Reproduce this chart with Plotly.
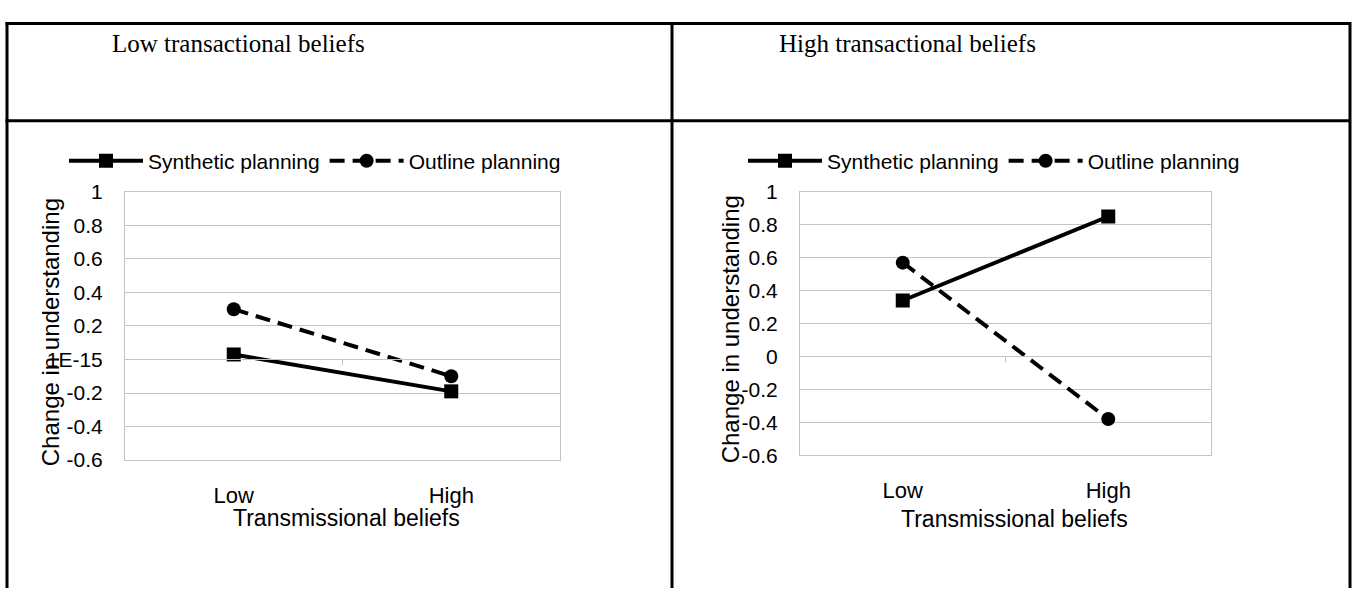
import plotly.graph_objects as go

categories = ["Low", "High"]
left_synthetic = [0.03, -0.19]
left_outline = [0.30, -0.10]
right_synthetic = [0.34, 0.85]
right_outline = [0.57, -0.38]
y_ticks = [-0.6, -0.4, -0.2, 0, 0.2, 0.4, 0.6, 0.8, 1]
left_tick_text = ["-0.6", "-0.4", "-0.2", "1E-15", "0.2", "0.4", "0.6", "0.8", "1"]
right_tick_text = ["-0.6", "-0.4", "-0.2", "0", "0.2", "0.4", "0.6", "0.8", "1"]
panel_titles = ["Low transactional beliefs", "High transactional beliefs"]
series_names = ["Synthetic planning", "Outline planning"]

FW, FH = 1355, 599
SANS = "Liberation Sans, Arial, sans-serif"
SERIF = "Liberation Serif, Times New Roman, serif"
GRID = "#c4c4c4"


def fx(p):
    return p / FW


def fy(p):
    return 1 - p / FH


fig = go.Figure()

panels = [
    dict(xa="x", ya="y", leg="legend", syn=left_synthetic, out=left_outline),
    dict(xa="x2", ya="y2", leg="legend2", syn=right_synthetic, out=right_outline),
]
for p in panels:
    fig.add_trace(go.Scatter(
        x=categories, y=p["syn"], name=series_names[0], mode="lines+markers",
        line=dict(color="black", width=4),
        marker=dict(symbol="square", size=14, color="black"),
        xaxis=p["xa"], yaxis=p["ya"], legend=p["leg"]))
    fig.add_trace(go.Scatter(
        x=categories, y=p["out"], name=series_names[1], mode="lines+markers",
        line=dict(color="black", width=4, dash="15px,8px"),
        marker=dict(symbol="circle", size=14, color="black"),
        xaxis=p["xa"], yaxis=p["ya"], legend=p["leg"]))

axis_common = dict(showline=True, mirror=True, linecolor=GRID, linewidth=1,
                   zeroline=False, fixedrange=True)
xcommon = dict(type="category", range=[-0.5, 1.5], showgrid=False, ticks="",
               ticklabelstandoff=15, tickfont=dict(size=22), **axis_common)
ycommon = dict(range=[-0.6, 1], tickvals=y_ticks, showgrid=True, gridcolor=GRID,
               ticks="", ticklabelstandoff=17, tickfont=dict(size=21), **axis_common)
legcommon = dict(orientation="h", xanchor="left", yanchor="middle",
                 font=dict(size=21, family=SANS), bgcolor="rgba(0,0,0,0)",
                 itemwidth=74, tracegroupgap=0)

fig.update_layout(
    width=FW, height=FH,
    margin=dict(l=0, r=0, t=0, b=0),
    paper_bgcolor="white", plot_bgcolor="white",
    font=dict(family=SANS, color="black", size=21),
    xaxis=dict(domain=[fx(125), fx(560)], anchor="y", **xcommon),
    yaxis=dict(domain=[fy(466), fy(187)], anchor="x", ticktext=left_tick_text, **ycommon),
    xaxis2=dict(domain=[fx(800), fx(1211)], anchor="y2", **xcommon),
    yaxis2=dict(domain=[fy(461), fy(187)], anchor="x2", ticktext=right_tick_text, **ycommon),
    legend=dict(x=fx(64), y=fy(155), **legcommon),
    legend2=dict(x=fx(743), y=fy(155), **legcommon),
    showlegend=True,
)

# horizontal axis crossing at zero, with the tick between the two categories
for xa, ya in (("x", "y"), ("x2", "y2")):
    fig.add_shape(type="line", xref=f"{xa} domain", yref=ya, x0=0, x1=1, y0=0, y1=0,
                  line=dict(color=GRID, width=1))
    fig.add_shape(type="line", xref=xa, yref=ya, x0=0.5, x1=0.5, y0=0, y1=-0.035,
                  line=dict(color=GRID, width=1))

# table borders
border = dict(color="black", width=3)
for x0, y0, x1, y1 in ((5.5, 12, 1351, 12), (5.5, 113, 1351, 113)):
    fig.add_shape(type="line", xref="paper", yref="paper", x0=fx(x0), x1=fx(x1),
                  y0=fy(y0), y1=fy(y1), line=border)
for xv in (7, 672, 1350):
    fig.add_shape(type="line", xref="paper", yref="paper", x0=fx(xv), x1=fx(xv),
                  y0=fy(10.5), y1=0, line=border)

# panel titles
for title, xl in zip(panel_titles, (110, 777)):
    fig.add_annotation(text=title, xref="paper", yref="paper", x=fx(xl), y=fy(33),
                       xanchor="left", yanchor="middle", showarrow=False,
                       font=dict(family=SERIF, size=25, color="black"))

# axis titles
for xc, yc, xt, yt in ((50, 333, 346, 526), (730, 330, 1014, 527)):
    fig.add_annotation(text="Change in understanding", xref="paper", yref="paper",
                       x=fx(xc), y=fy(yc), textangle=-90, showarrow=False,
                       xanchor="center", yanchor="middle", font=dict(size=24))
    fig.add_annotation(text="Transmissional beliefs", xref="paper", yref="paper",
                       x=fx(xt), y=fy(yt), showarrow=False,
                       xanchor="center", yanchor="middle", font=dict(size=23))

fig.write_html("out.html", config={"displayModeBar": False},
               post_script="document.body.style.margin='0px';")
